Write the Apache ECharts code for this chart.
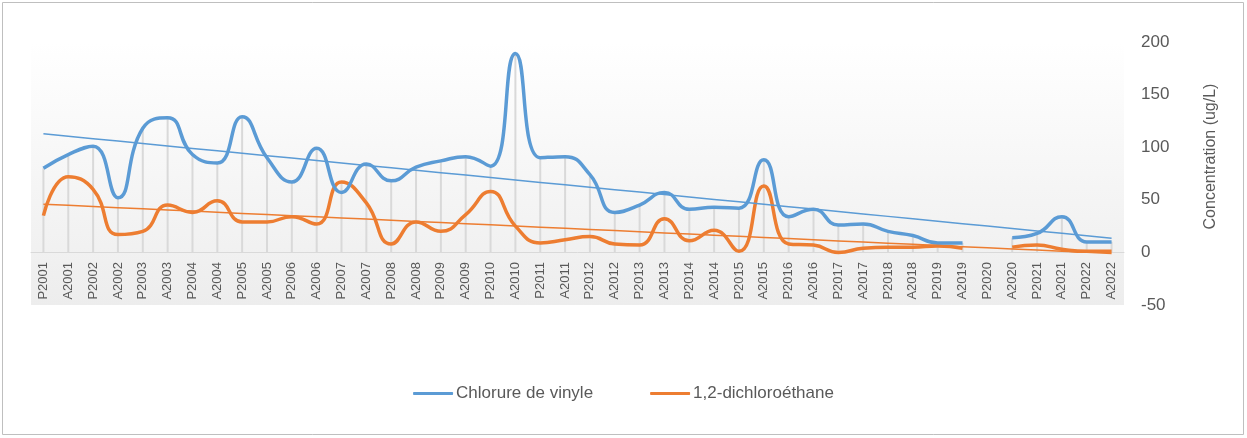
<!DOCTYPE html>
<html>
<head>
<meta charset="utf-8">
<script src="https://cdn.jsdelivr.net/npm/echarts@6/dist/echarts.min.js"></script>
<style>
  html, body { margin: 0; padding: 0; background: #fff; }
  #chart { width: 1247px; height: 438px; }
</style>
</head>
<body>
<div id="chart"></div>
<script>
var categories = ['P2001','A2001','P2002','A2002','P2003','A2003','P2004','A2004','P2005','A2005',
  'P2006','A2006','P2007','A2007','P2008','A2008','P2009','A2009','P2010','A2010',
  'P2011','A2011','P2012','A2012','P2013','A2013','P2014','A2014','P2015','A2015',
  'P2016','A2016','P2017','A2017','P2018','A2018','P2019','A2019','P2020','A2020',
  'P2021','A2021','P2022','A2022'];

var chlorureVinyle = [80,93,101,52,118,128,93,85,129,90,
  67,99,57,84,68,81,87,91,82,189,
  90,91,74,38,45,57,41,43,42,88,
  34,41,26,27,20,16,9,9,null,14,
  18,34,10,10];

var dichloroethane = [35,72,60,17,20,45,38,49,29,29,
  34,27,67,47,8,29,20,36,58,25,
  9,12,15,8,7,32,11,21,1,63,
  8,7,0,4,5,5,6,4,null,5,
  7,3,1,1];

var yTicks = [-50, 0, 50, 100, 150, 200];

// tendance linéaire (comme Excel : x = 1..n, points vides ignorés)
function trend(data) {
  var n = 0, sx = 0, sy = 0, sxx = 0, sxy = 0;
  for (var i = 0; i < data.length; i++) {
    if (data[i] == null) continue;
    var x = i + 1;
    n++; sx += x; sy += data[i]; sxx += x * x; sxy += x * data[i];
  }
  var b = (n * sxy - sx * sy) / (n * sxx - sx * sx);
  var a = (sy - b * sx) / n;
  var out = [];
  for (var j = 0; j < data.length; j++) { out.push(a + b * (j + 1)); }
  return out;
}

// lignes de projection : du point le plus haut jusqu'à l'axe
function dropLines(s1, s2) {
  var out = [];
  for (var i = 0; i < s1.length; i++) {
    if (s1[i] == null && s2[i] == null) { out.push(null); continue; }
    out.push(Math.max(s1[i] || 0, s2[i] || 0));
  }
  return out;
}

var blue = '#5b9bd5';
var orange = '#ed7d31';
var textColor = '#595959';
var font = 'Liberation Sans';

var myChart = echarts.init(document.getElementById('chart'));
var option = {
  animation: false,
  textStyle: { fontFamily: font },
  graphic: [{
    type: 'rect',
    shape: { x: 2.5, y: 2.5, width: 1241, height: 432 },
    style: { fill: 'none', stroke: '#bfbfbf', lineWidth: 1 },
    silent: true
  }],
  grid: {
    left: 31,
    right: 123,
    top: 42,
    bottom: 133,
    show: true,
    borderWidth: 0,
    backgroundColor: {
      type: 'linear', x: 0, y: 0, x2: 0, y2: 1,
      colorStops: [
        { offset: 0, color: '#ffffff' },
        { offset: 1, color: '#ededed' }
      ]
    }
  },
  legend: {
    data: ['Chlorure de vinyle', '1,2-dichloroéthane'],
    bottom: 31,
    left: 'center',
    icon: 'roundRect',
    itemWidth: 40,
    itemHeight: 3,
    itemGap: 57,
    textStyle: { color: textColor, fontSize: 17, fontFamily: font, padding: [0, 0, 0, -2] }
  },
  xAxis: {
    type: 'category',
    data: categories,
    boundaryGap: true,
    axisLine: { onZero: true, lineStyle: { color: '#d9d9d9', width: 1 } },
    axisTick: { show: false },
    axisLabel: { rotate: 90, interval: 0, color: textColor, fontSize: 13, fontFamily: font, margin: -43 }
  },
  yAxis: {
    type: 'value',
    position: 'right',
    min: yTicks[0],
    max: yTicks[yTicks.length - 1],
    interval: 50,
    splitLine: { show: false },
    axisLine: { show: false },
    axisTick: { show: false },
    axisLabel: { color: textColor, fontSize: 17, fontFamily: font, margin: 17 },
    name: 'Concentration (ug/L)',
    nameLocation: 'middle',
    nameGap: 79,
    nameRotate: 90,
    nameTextStyle: { color: textColor, fontSize: 16, fontFamily: font, padding: [0, 0, 0, 34] }
  },
  series: [
    {
      name: 'drop',
      type: 'bar',
      data: dropLines(chlorureVinyle, dichloroethane),
      barWidth: 2,
      itemStyle: { color: '#d9d9d9' },
      silent: true,
      z: 1
    },
    {
      name: 'Chlorure de vinyle',
      type: 'line',
      data: chlorureVinyle,
      smooth: 0.5,
      symbol: 'none',
      connectNulls: false,
      lineStyle: { color: blue, width: 3.5 },
      itemStyle: { color: blue },
      z: 4
    },
    {
      name: '1,2-dichloroéthane',
      type: 'line',
      data: dichloroethane,
      smooth: 0.5,
      symbol: 'none',
      connectNulls: false,
      lineStyle: { color: orange, width: 3.5 },
      itemStyle: { color: orange },
      z: 3
    },
    {
      name: 'tendance vinyle',
      type: 'line',
      data: trend(chlorureVinyle),
      symbol: 'none',
      lineStyle: { color: blue, width: 1.5 },
      silent: true,
      z: 5
    },
    {
      name: 'tendance dce',
      type: 'line',
      data: trend(dichloroethane),
      symbol: 'none',
      lineStyle: { color: orange, width: 1.5 },
      silent: true,
      z: 5
    }
  ]
};

myChart.setOption(option);
</script>
</body>
</html>
